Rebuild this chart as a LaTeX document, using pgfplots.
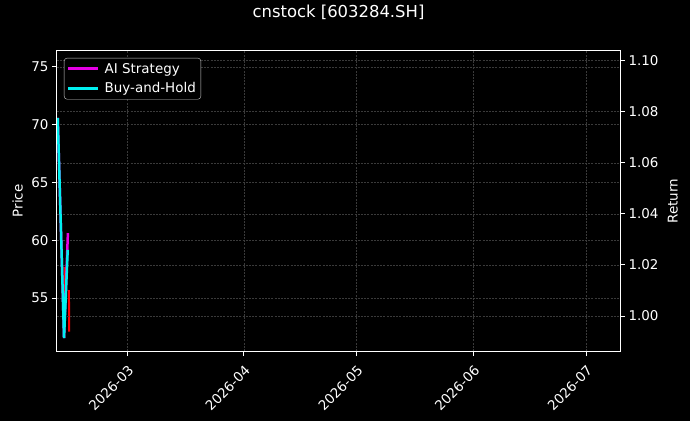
\documentclass[border=0pt]{standalone}
\usepackage{fontspec}
\setmainfont{DejaVu Sans}
\usepackage{pgfplots}
\pgfplotsset{compat=1.18}

% x = day of year 2026 (Jan 1 = 0)
\definecolor{bhcyan}{RGB}{0,240,240}
\definecolor{aimag}{RGB}{230,0,230}
\definecolor{gridc}{RGB}{58,58,58}

\pgfplotsset{
  darkax/.style={
    scale only axis, width=563bp, height=300bp,
    at={(0,0)}, anchor=south west,
    xmin=40.3, xmax=190,
    axis line style={white, line width=1bp},
    tick style={white, line width=1bp},
    major tick length=5bp,
    tick align=outside,
    every tick label/.append style={white, font=\fontsize{13.5}{16}\selectfont},
    label style={white, font=\fontsize{13.5}{16}\selectfont},
    /pgf/number format/assume math mode=true,
    grid=major,
    grid style={gridc, line width=0.6bp, dash pattern=on 2bp off 1.2bp},
  },
}

\begin{document}
\begin{tikzpicture}
  \fill[black] (-57bp,-70bp) rectangle (633bp,351bp);

  \begin{axis}[
    darkax,
    ymin=50.43, ymax=76.38,
    xtick={59,90,120,151,181},
    xticklabels={2026-03,2026-04,2026-05,2026-06,2026-07},
    x tick label style={rotate=45, anchor=north east, inner sep=2bp,
      xshift=-4bp, yshift=-4bp},
    ytick={55,60,65,70,75},
    xtick pos=left, ytick pos=left,
    ylabel={Price},
    ylabel style={at={(axis description cs:-0.07,0.5)}, anchor=center},
    title={cnstock [603284.SH]},
    title style={white, font=\fontsize{16.5}{19}\selectfont,
      at={(axis description cs:0.5,1.11)}, anchor=center},
  ]
    % price line (red), partly hidden behind the return lines
    \addplot[red, line width=2bp] table {
      x y
      42.36 57.7
      42.40 53.4
    };
    \addplot[red, line width=2bp] table {
      x y
      43.48 55.7
      43.52 52.1
    };
  \end{axis}

  \begin{axis}[
    darkax,
    axis x line=none,
    axis y line*=right,
    ymin=0.9863, ymax=1.1038,
    ytick={1.00,1.02,1.04,1.06,1.08,1.10},
    yticklabel style={/pgf/number format/.cd, fixed, fixed zerofill, precision=2},
    ylabel={Return},
    ylabel style={at={(axis description cs:1.094,0.5)}, anchor=center},
    legend style={
      at={(axis description cs:0.0124,0.977)}, anchor=north west,
      fill=black, draw=white!80!black, text=white, rounded corners=3bp,
      font=\fontsize{13.5}{16}\selectfont, row sep=4bp,
      inner sep=3bp,
    },
    legend cell align=left,
    legend image code/.code={
      \draw[#1, line width=2.6bp] (0bp,0.15bp) -- (30bp,0.15bp);
      \path (33bp,0bp);
    },
  ]
    \addplot[aimag, line width=2.5bp] table {
      x y
      40.50 1.0776
      42.17 0.9914
      43.20 1.0325
    };
    \addlegendentry{AI Strategy}
    \addplot[bhcyan, line width=2.5bp] table {
      x y
      40.50 1.0776
      42.17 0.9914
      43.15 1.0259
    };
    \addlegendentry{Buy-and-Hold}
  \end{axis}
\end{tikzpicture}
\end{document}
